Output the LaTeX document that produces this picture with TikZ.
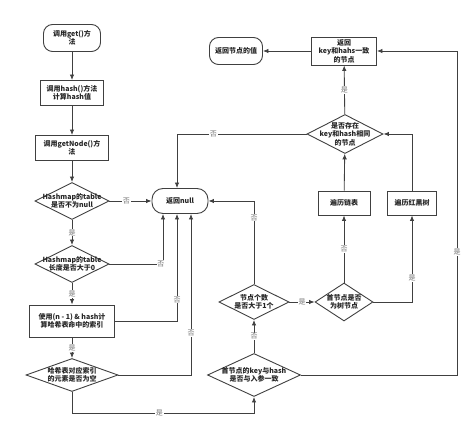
\documentclass[tikz,border=0pt]{standalone}
\usepackage{fontspec}
\setmainfont{Noto Sans CJK SC}
\usetikzlibrary{arrows.meta,shapes.geometric}
\tikzset{
  txt/.style={font=\fontsize{7}{8.5}\selectfont\bfseries, align=center, text=black!85},
  terminal/.style={draw=black!75, line width=0.9pt, rounded corners=9pt, txt, inner sep=1pt},
  process/.style={draw=black!75, line width=0.9pt, txt, inner sep=1pt},
  decision/.style={diamond, draw=black!75, line width=0.9pt, inner sep=0pt},
  lbl/.style={fill=white, text=black!55, font=\fontsize{7}{7}\selectfont, inner sep=0.8pt},
  flow/.style={->, draw=black!75, line width=0.85pt},
  >={Latex[length=5.5pt,width=4.5pt]}}

\begin{document}
\begin{tikzpicture}[x=1pt,y=-1pt]
        \useasboundingbox (0,0) rectangle (474,430);

        % left column
        \node[terminal, minimum width=57pt, minimum height=27pt] (start) at (72,38) {调用get()方\\法};
        \node[process, minimum width=63pt, minimum height=25pt] (hash) at (72,93) {调用hash()方法\\计算hash值};
        \node[process, minimum width=73pt, minimum height=25pt] (getnode) at (72,148) {调用getNode()方\\法};
        \node[decision, minimum width=74pt, minimum height=37pt,
              label={[txt]center:{Hashmap的table\\是否不为null}}] (notnull) at (72,201) {};
        \node[decision, minimum width=74pt, minimum height=37pt,
              label={[txt]center:{Hashmap的table\\长度是否大于0}}] (len) at (72,264) {};
        \node[process, minimum width=85pt, minimum height=32pt] (index) at (72,321) {使用(n - 1) \& hash计\\算哈希表命中的索引};
        \node[decision, minimum width=92pt, minimum height=33pt,
              label={[txt]center:{哈希表对应索引\\的元素是否为空}}] (empty) at (72,375) {};

        \node[terminal, rounded corners=11pt, minimum width=56pt, minimum height=25pt] (null) at (180,201) {返回null};

        % right part
        \node[decision, minimum width=93pt, minimum height=43pt,
              label={[txt]center:{首节点的key与hash\\是否与入参一致}}] (first) at (254,375) {};
        \node[decision, minimum width=70pt, minimum height=35pt,
              label={[txt]center:{节点个数\\是否大于1个}}] (count) at (254,302) {};
        \node[decision, minimum width=58pt, minimum height=38pt,
              label={[txt]center:{首节点是否\\为树节点}}] (istree) at (344,302) {};
        \node[process, minimum width=52pt, minimum height=24pt] (list) at (344,203) {遍历链表};
        \node[process, minimum width=49pt, minimum height=24pt] (tree) at (412,203) {遍历红黑树};
        \node[decision, minimum width=76pt, minimum height=39pt,
              label={[txt]center:{是否存在\\key和hash相同\\的节点}}] (found) at (345,134) {};
        \node[process, minimum width=65pt, minimum height=28pt] (retkey) at (344,51) {返回\\key和hahs一致\\的节点};
        \node[terminal, minimum width=53pt, minimum height=27pt] (retval) at (236,51) {返回节点的值};

        \coordinate (bottom) at (254,413);
        \coordinate (corner) at (457,51);

        \draw[flow] (start) -- (hash);
        \draw[flow] (hash) -- (getnode);
        \draw[flow] (getnode) -- (notnull);
        \draw[flow] (notnull) -- node[lbl, pos=0.4] {否} (null);
        \draw[flow] (notnull) -- node[lbl] {是} (len);
        \draw[flow] (len.east) -| node[lbl, pos=0.48] {否} ([xshift=-17pt]null.south);
        \draw[flow] (len) -- node[lbl] {是} (index);
        \draw[flow] (index.east) -| node[lbl, pos=0.6] {否} ([xshift=-3pt]null.south);
        \draw[flow] (index) -- node[lbl] {是} (empty);
        \draw[flow] (empty.east) -| node[lbl, pos=0.63] {否} ([xshift=11pt]null.south);
        \draw[flow] (empty.south) |- node[lbl, pos=0.74] {是} (bottom) -- (first.south);

        \draw[flow] (first) -- node[lbl] {否} (count);
        \draw[flow] (count.north) |- node[lbl, pos=0.4] {否} (null.east);
        \draw[flow] (count) -- node[lbl] {是} (istree);
        \draw[flow] (istree) -- node[lbl] {否} (list);
        \draw[flow] (istree.east) -| node[lbl, pos=0.64] {是} (tree.south);
        \draw[flow] (list) -- (found);
        \draw[flow] (tree.north) |- (found.east);
        \draw[flow] (found) -- node[lbl] {是} (retkey);
        \draw[flow] (found.west) -| node[lbl, pos=0.36] {否} ([xshift=-3pt]null.north);
        \draw[flow] (first.east) -| node[lbl, pos=0.69] {是} (corner) -- (retkey.east);
        \draw[flow] (retkey) -- (retval);
    \end{tikzpicture}
\end{document}
